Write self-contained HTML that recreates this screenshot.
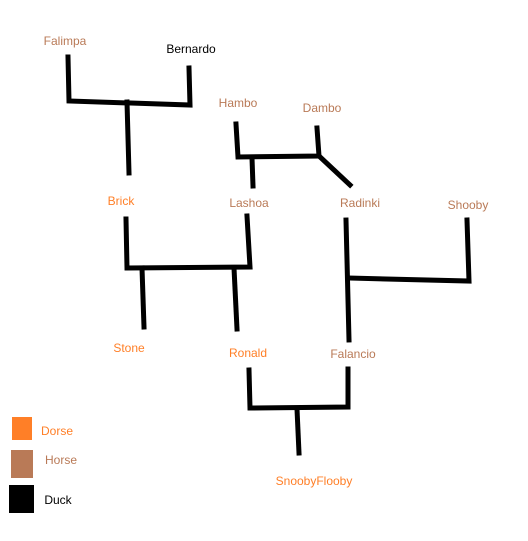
<!DOCTYPE html>
<html><head><style>
html,body{margin:0;padding:0;background:#fff;}
svg{display:block;}
text{font-family:"Liberation Sans",sans-serif;font-size:12px;text-anchor:middle;dominant-baseline:middle;}
.h{fill:#B97A57}.o{fill:#FF7F27}.k{fill:#000}
</style></head><body>
<svg width="528" height="541" viewBox="0 0 528 541">
<g stroke="#000" stroke-width="5" fill="none" stroke-linecap="square">
<polyline points="68,57 69,101 190,105 189,68"/>
<line x1="127" y1="102" x2="129" y2="173"/>
<polyline points="236,124 238,157 319,156 317,128"/>
<line x1="319" y1="156" x2="350" y2="185"/>
<line x1="252" y1="158" x2="253" y2="186"/>
<polyline points="126,219 127,268 250,267 247,216"/>
<line x1="142" y1="268" x2="144" y2="327"/>
<line x1="234" y1="268" x2="237" y2="329"/>
<line x1="346" y1="220" x2="349" y2="340"/>
<polyline points="348,278 469,281 467,220"/>
<polyline points="249,370 250,408 348,407 348,369"/>
<line x1="297" y1="409" x2="299" y2="453"/>
</g>
<text x="65" y="42" class="h">Falimpa</text>
<text x="191" y="50" class="k">Bernardo</text>
<text x="238" y="104" class="h">Hambo</text>
<text x="322" y="109" class="h">Dambo</text>
<text x="121" y="202" class="o">Brick</text>
<text x="249" y="204" class="h">Lashoa</text>
<text x="360" y="204" class="h">Radinki</text>
<text x="468" y="206" class="h">Shooby</text>
<text x="129" y="349" class="o">Stone</text>
<text x="248" y="354" class="o">Ronald</text>
<text x="353" y="355" class="h">Falancio</text>
<text x="314" y="482" class="o">SnoobyFlooby</text>
<rect x="12" y="417" width="20" height="23" fill="#FF7F27"/>
<rect x="11" y="450" width="22" height="28" fill="#B97A57"/>
<rect x="9" y="485" width="25" height="28" fill="#000"/>
<text x="57" y="432" class="o">Dorse</text>
<text x="61" y="461" class="h">Horse</text>
<text x="58" y="501" class="k">Duck</text>
</svg>
</body></html>
